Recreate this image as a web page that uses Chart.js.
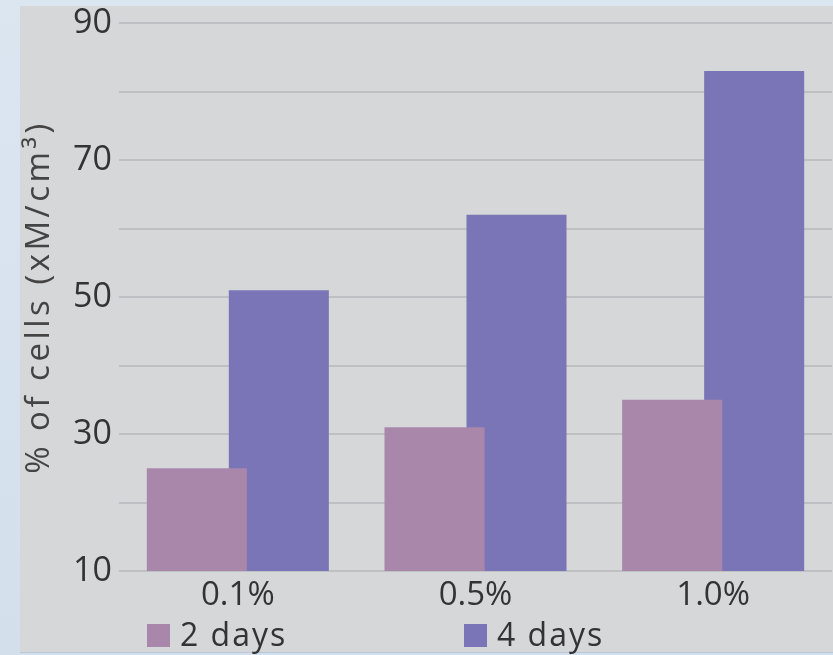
<!DOCTYPE html>
<html>
<head>
<meta charset="utf-8">
<script src="https://cdn.jsdelivr.net/npm/chart.js@4.4.1/dist/chart.umd.min.js"></script>
<style>
  html, body { margin: 0; padding: 0; }
  body {
    width: 833px; height: 655px; overflow: hidden; position: relative;
    background: linear-gradient(180deg, #dbe6f1 0%, #d3dfeb 100%);
    font-family: "Open Sans", sans-serif;
  }
  #panel {
    position: absolute; left: 20px; top: 6px; width: 813px; height: 646px;
    background: #d6d7d9;
    border-bottom: 1px solid #b9c8d8;
  }
  #chartBox { position: absolute; left: 20px; top: -6px; width: 813px; height: 658px; }
  #legend { position: absolute; top: 612px; left: 0; width: 833px; height: 40px; }
  .item { position: absolute; top: 0; display: flex; align-items: center; color: #333; font-size: 32px; letter-spacing: 2px; }
  .swatch { width: 23px; height: 23px; margin-right: 10px; margin-top: 4px; }
</style>
</head>
<body>
<div id="panel"></div>
<div id="chartBox"><canvas id="cellsChart" width="813" height="658"></canvas></div>
<div id="legend"></div>

<script>
// data
const categories = ['0.1%', '0.5%', '1.0%'];
const seriesNames = ['2 days', '4 days'];
const twoDays = [25, 31, 35];
const fourDays = [51, 62, 83];
const yLabelTicks = [10, 30, 50, 70, 90];
const colors = ['#a987ab', '#7a75b7'];

// the axis title in the original is widely spaced
const spacedTitle = {
    id: 'spacedTitle',
    afterUpdate(chart) {
        const s = chart.scales.y;
        if (s._spaced) return;
        const orig = s.drawTitle.bind(s);
        s.drawTitle = function () {
            chart.ctx.save();
            chart.ctx.letterSpacing = '3.5px';
            orig();
            chart.ctx.restore();
        };
        s._spaced = true;
    }
};

const ctx = document.getElementById('cellsChart').getContext('2d');

new Chart(ctx, {
    type: 'bar',
    data: {
        labels: categories,
        datasets: [
            { label: seriesNames[0], data: twoDays, backgroundColor: colors[0] },
            { label: seriesNames[1], data: fourDays, backgroundColor: colors[1] }
        ]
    },
    plugins: [spacedTitle],
    options: {
        responsive: false,
        animation: false,
        events: [],
        layout: { padding: { top: 29, right: 1, left: 0, bottom: 0 } },
        datasets: {
            bar: { categoryPercentage: 0.69, barPercentage: 1.22 }
        },
        plugins: {
            legend: { display: false },
            tooltip: { enabled: false }
        },
        scales: {
            x: {
                grid: { display: false, drawTicks: false },
                border: { display: false },
                ticks: {
                    color: '#333',
                    padding: 5,
                    maxRotation: 0,
                    autoSkip: false,
                    font: { family: 'Open Sans', size: 33 }
                },
                afterFit: (scale) => { scale.height = 81; }
            },
            y: {
                min: 10,
                max: 90,
                grid: { color: '#bfc0c3', lineWidth: 2, drawTicks: false },
                border: { display: false },
                ticks: {
                    stepSize: 10,
                    padding: 7,
                    color: '#333',
                    font: { family: 'Open Sans', size: 34 },
                    callback: (v) => yLabelTicks.includes(v) ? v : ''
                },
                title: {
                    display: true,
                    text: '% of cells (xM/cm³)',
                    color: '#444',
                    padding: 0,
                    font: { family: 'Open Sans', size: 33 }
                },
                afterFit: (scale) => { scale.width = 99; }
            }
        }
    }
});

// legend
const legend = document.getElementById('legend');
const legendX = [147, 464];
seriesNames.forEach((name, i) => {
    const item = document.createElement('div');
    item.className = 'item';
    item.style.left = legendX[i] + 'px';
    item.innerHTML = `<span class="swatch" style="background:${colors[i]}"></span><span>${name}</span>`;
    legend.appendChild(item);
});
</script>
</body>
</html>
